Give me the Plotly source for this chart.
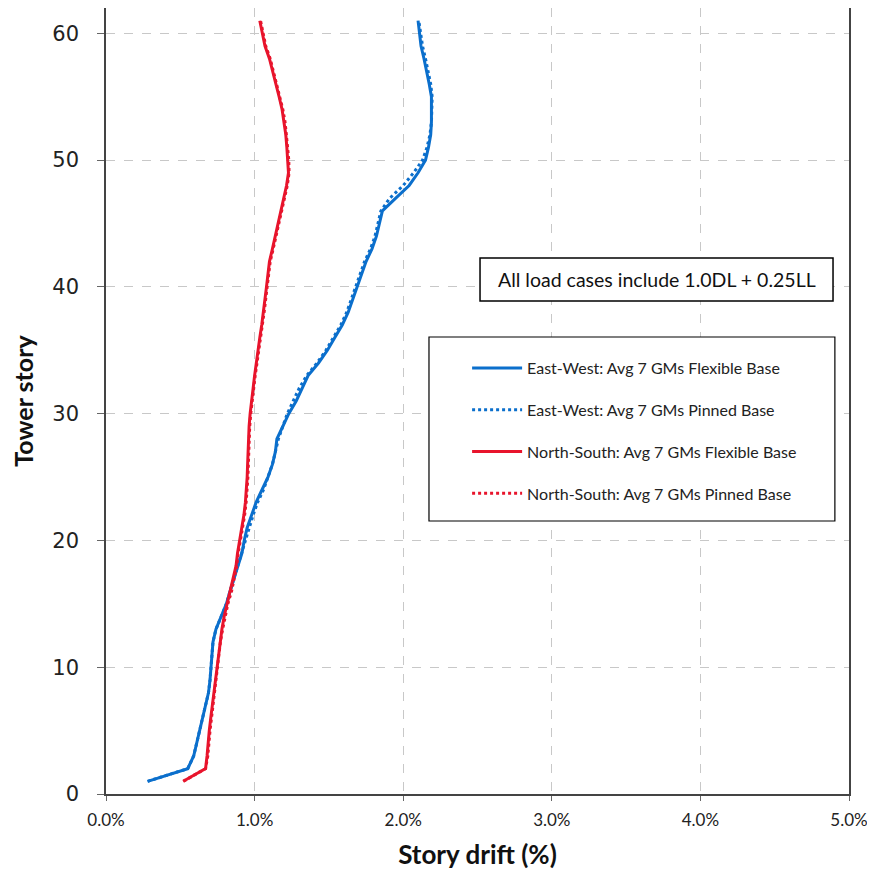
import plotly.graph_objects as go

stories = list(range(1, 62))

ew_flexible = [0.28, 0.55, 0.59, 0.61, 0.63, 0.655, 0.675, 0.69, 0.70, 0.705,
               0.71, 0.72, 0.74, 0.775, 0.81, 0.835, 0.86, 0.885, 0.915, 0.93,
               0.95, 0.98, 1.01, 1.05, 1.09, 1.12, 1.14, 1.15, 1.19, 1.23,
               1.28, 1.32, 1.36, 1.43, 1.49, 1.54, 1.59, 1.63, 1.66, 1.69,
               1.72, 1.75, 1.79, 1.82, 1.84, 1.86, 1.95, 2.04, 2.10, 2.15,
               2.17, 2.185, 2.19, 2.19, 2.19, 2.175, 2.16, 2.14, 2.12, 2.11,
               2.10]

ew_pinned = [0.28, 0.55, 0.59, 0.61, 0.63, 0.655, 0.675, 0.69, 0.70, 0.705,
             0.71, 0.72, 0.74, 0.775, 0.81, 0.835, 0.86, 0.885, 0.915, 0.935,
             0.96, 0.99, 1.02, 1.06, 1.09, 1.12, 1.14, 1.16, 1.19, 1.22,
             1.26, 1.30, 1.35, 1.42, 1.48, 1.53, 1.58, 1.62, 1.65, 1.68,
             1.71, 1.74, 1.78, 1.81, 1.83, 1.85, 1.91, 2.00, 2.07, 2.13,
             2.16, 2.18, 2.19, 2.195, 2.195, 2.185, 2.17, 2.15, 2.13, 2.115,
             2.105]

ns_flexible = [0.52, 0.67, 0.68, 0.685, 0.695, 0.705, 0.715, 0.725, 0.735, 0.745,
               0.755, 0.765, 0.78, 0.795, 0.815, 0.84, 0.86, 0.875, 0.885, 0.90,
               0.915, 0.928, 0.938, 0.945, 0.95, 0.953, 0.956, 0.958, 0.963, 0.97,
               0.978, 0.99, 1.00, 1.01, 1.02, 1.035, 1.048, 1.06, 1.07, 1.08,
               1.09, 1.10, 1.12, 1.14, 1.16, 1.18, 1.20, 1.215, 1.228, 1.225,
               1.217, 1.21, 1.20, 1.185, 1.165, 1.145, 1.125, 1.10, 1.07, 1.05,
               1.035]

ns_pinned = [0.52, 0.67, 0.685, 0.69, 0.70, 0.71, 0.72, 0.73, 0.74, 0.75,
             0.76, 0.77, 0.785, 0.80, 0.82, 0.845, 0.865, 0.88, 0.89, 0.905,
             0.92, 0.933, 0.943, 0.95, 0.955, 0.958, 0.96, 0.962, 0.967, 0.974,
             0.982, 0.994, 1.004, 1.015, 1.025, 1.04, 1.052, 1.064, 1.075, 1.085,
             1.095, 1.105, 1.125, 1.145, 1.165, 1.185, 1.205, 1.22, 1.232, 1.23,
             1.222, 1.215, 1.205, 1.19, 1.17, 1.15, 1.13, 1.105, 1.075, 1.055,
             1.04]

series_names = ["East-West: Avg 7 GMs Flexible Base",
                "East-West: Avg 7 GMs Pinned Base",
                "North-South: Avg 7 GMs Flexible Base",
                "North-South: Avg 7 GMs Pinned Base"]

x_ticks = [0, 1, 2, 3, 4, 5]
x_tick_labels = ["0.0%", "1.0%", "2.0%", "3.0%", "4.0%", "5.0%"]
y_ticks = [0, 10, 20, 30, 40, 50, 60]

BLUE = "#0B6FCC"
RED = "#E8142C"
FONT = "Lato, Open Sans, sans-serif"

fig = go.Figure()
styles = [(ew_flexible, BLUE, "solid"), (ew_pinned, BLUE, "dot"),
          (ns_flexible, RED, "solid"), (ns_pinned, RED, "dot")]
for i, (vals, col, dash) in enumerate(styles):
    fig.add_trace(go.Scatter(
        x=vals, y=stories, mode="lines", name=series_names[i],
        line=dict(color=col, width=3, dash=dash),
        legendgroup=f"g{i}",
    ))

# page body adds an 8px margin, so the figure is sized 867 and shifted margins
fig.update_layout(
    width=867, height=867,
    margin=dict(l=98, r=26, t=0, b=81),
    paper_bgcolor="white", plot_bgcolor="white",
    showlegend=True,
    legend=dict(
        x=0.486, y=0.5636, xanchor="left", yanchor="top",
        borderwidth=0, bgcolor="rgba(0,0,0,0)",
        font=dict(family=FONT, size=16, color="#222"),
        tracegroupgap=18, itemwidth=50,
    ),
    xaxis=dict(
        range=[0, 5], tickvals=x_ticks, ticktext=x_tick_labels,
        showgrid=True, gridcolor="#c8c8c8", griddash="dash", gridwidth=1,
        showline=True, linecolor="#444", linewidth=1.5, mirror=True,
        ticks="outside", ticklen=5, tickcolor="#666",
        ticklabelstandoff=5,
        tickfont=dict(family=FONT, size=17, color="#222"),
        title=dict(text="<b>Story drift (%)</b>", standoff=17,
                   font=dict(family=FONT, size=26, color="#111")),
        zeroline=False, automargin=False,
    ),
    yaxis=dict(
        range=[0, 62], tickvals=y_ticks,
        showgrid=True, gridcolor="#c8c8c8", griddash="dash", gridwidth=1,
        showline=True, linecolor="#444", linewidth=1.5, mirror=True,
        ticks="outside", ticklen=7, tickcolor="#666",
        ticklabelstandoff=14,
        tickfont=dict(family="DejaVu Sans, sans-serif", size=21, color="#222"),
        title=dict(text="<b>Tower story</b>", standoff=16,
                   font=dict(family=FONT, size=25, color="#111")),
        zeroline=False, automargin=False,
    ),
)

# note box
fig.add_shape(type="rect", xref="paper", yref="paper",
              x0=0.5034, x1=0.9785, y0=0.6272, y1=0.6819,
              line=dict(color="black", width=1.5), fillcolor="white", layer="above")
fig.add_annotation(
    x=0.741, y=0.6546, xref="paper", yref="paper", xanchor="center", yanchor="middle",
    text="All load cases include 1.0DL + 0.25LL", showarrow=False,
    font=dict(family=FONT, size=19.5, color="#111"),
)
# legend frame
fig.add_shape(type="rect", xref="paper", yref="paper",
              x0=0.4347, x1=0.981, y0=0.3473, y1=0.5814,
              line=dict(color="black", width=1.2), fillcolor="white", layer="above")

fig.write_html("out.html")
